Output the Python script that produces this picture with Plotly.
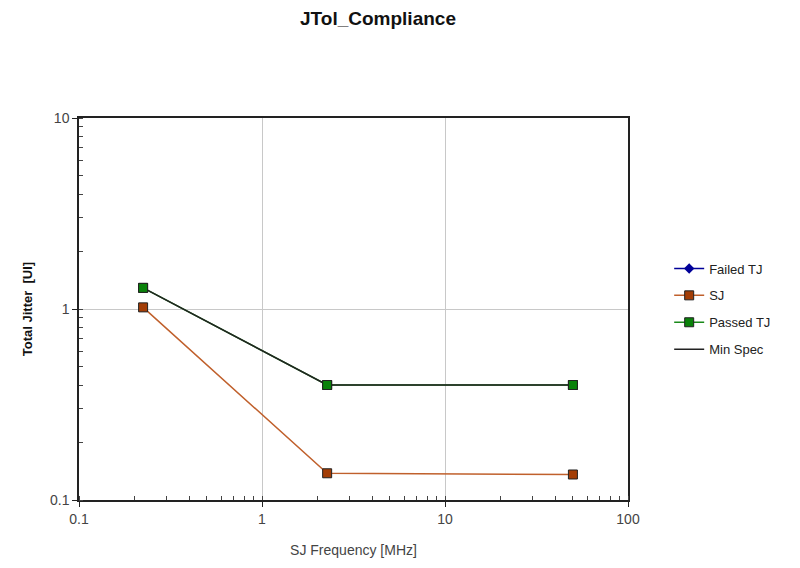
import plotly.graph_objects as go

freq_mhz = [0.224, 2.27, 50.0]
sj_ui = [1.02, 0.138, 0.136]
passed_tj_ui = [1.29, 0.40, 0.40]
min_spec_ui = [1.29, 0.40, 0.40]
failed_freq = [None]
failed_tj = [None]

fig = go.Figure()

fig.add_trace(go.Scatter(
    x=failed_freq, y=failed_tj, name="Failed TJ", mode="lines+markers",
    legendgroup="a",
    line=dict(color="#000099", width=1.5),
    marker=dict(symbol="diamond", size=8, color="#000099")))

fig.add_trace(go.Scatter(
    x=freq_mhz, y=sj_ui, name="SJ", mode="lines+markers",
    legendgroup="b",
    line=dict(color="#c0602c", width=1.5),
    marker=dict(symbol="square", size=9, color="#a33d06",
                line=dict(color="#222222", width=1))))

fig.add_trace(go.Scatter(
    x=freq_mhz, y=passed_tj_ui, name="Passed TJ", mode="lines+markers",
    legendgroup="c",
    line=dict(color="#1a8a1a", width=1.5),
    marker=dict(symbol="square", size=9, color="#0a820a",
                line=dict(color="#222222", width=1))))

fig.add_trace(go.Scatter(
    x=freq_mhz, y=min_spec_ui, name="Min Spec", mode="lines",
    legendgroup="d",
    line=dict(color="#222222", width=1.5)))

fig.add_trace(go.Scatter(
    x=freq_mhz, y=passed_tj_ui, name="Passed TJ", mode="markers",
    legendgroup="c", showlegend=False,
    marker=dict(symbol="square", size=9, color="#0a820a",
                line=dict(color="#222222", width=1))))

axis_common = dict(
    type="log",
    showline=True, linecolor="#222222", linewidth=1.5, mirror=True,
    showgrid=True, gridcolor="#c8c8c8", gridwidth=1,
    ticks="outside", ticklen=5, tickcolor="#222222",
    minor=dict(ticks="inside", ticklen=4, tickcolor="#444444", showgrid=False, dtick="D1"),
    tickfont=dict(family="Liberation Sans, Arial", size=14, color="#444444"),
    zeroline=False,
)

fig.update_xaxes(
    **axis_common,
    range=[-1, 2],
    tickvals=[0.1, 1, 10, 100], ticktext=["0.1", "1", "10", "100"],
    title=dict(text="SJ Frequency [MHz]", standoff=20,
               font=dict(family="Liberation Sans, Arial", size=14, color="#444444")),
)
fig.update_yaxes(
    **axis_common,
    range=[-1, 1],
    tickvals=[0.1, 1, 10], ticktext=["0.1", "1", "10"],
    title=dict(text="<b>Total Jitter  [UI]</b>", standoff=14,
               font=dict(family="Liberation Sans, Arial", size=13, color="#111111")),
)

# page body has an 8px margin, so the figure is sized and offset for it
fig.update_layout(
    width=792, height=560,
    margin=dict(l=71, r=172, t=110, b=65),
    paper_bgcolor="white", plot_bgcolor="white",
    title=dict(text="<b>JTol_Compliance</b>", x=370/792, xanchor="center",
               y=1 - 10/560, yanchor="middle",
               font=dict(family="Liberation Sans, Arial", size=19, color="#111111")),
    legend=dict(x=1.075, xanchor="left", y=0.5, yanchor="middle",
                traceorder="grouped",
                font=dict(family="Liberation Sans, Arial", size=13, color="#222222"),
                tracegroupgap=7, itemwidth=30, bgcolor="rgba(0,0,0,0)"),
    showlegend=True,
)

fig.write_html("out.html")
